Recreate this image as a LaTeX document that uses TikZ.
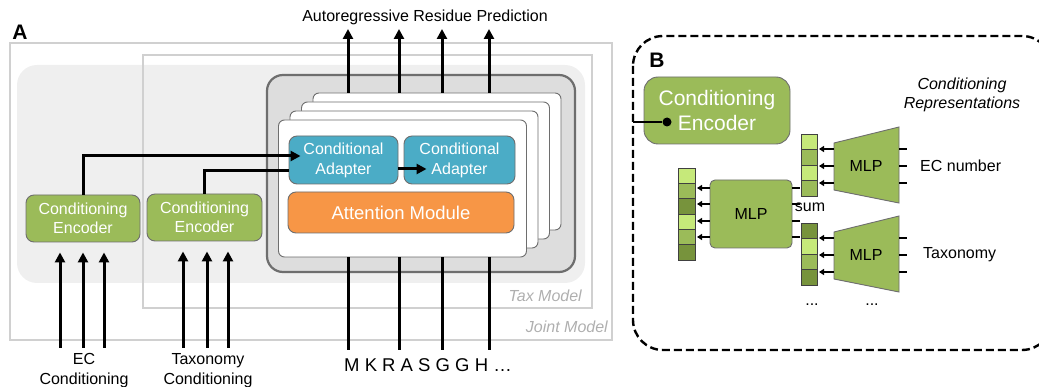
\documentclass[tikz,border=0pt]{standalone}
\usepackage{fontspec}
\setmainfont{Liberation Sans}
\usetikzlibrary{arrows.meta,calc}
\definecolor{grn}{HTML}{9BBB59}
\definecolor{grnl}{HTML}{C6E97A}
\definecolor{grnd}{HTML}{77933C}
\definecolor{blu}{HTML}{4BACC6}
\definecolor{org}{HTML}{F79646}
\definecolor{framec}{HTML}{D0D0D0}
\definecolor{bgc}{HTML}{EFEFEF}
\definecolor{contc}{HTML}{DDDDDD}
\definecolor{edgec}{HTML}{6E6E6E}
\definecolor{labc}{HTML}{AFAFAF}
\begin{document}
\begin{tikzpicture}[x=1pt,y=-1pt,
  bigarrow/.style={line width=3pt,-{Triangle[length=10pt,width=10pt]}},
  bigline/.style={line width=3pt},
  smallarrow/.style={line width=1.6pt,-{Triangle[length=5pt,width=6pt]}},
  tick/.style={line width=1.6pt},
  enc/.style={draw=edgec,line width=0.9pt,fill=grn,rounded corners=8pt,text=white,align=center,inner sep=0pt,font=\fontsize{16}{19.5}\selectfont},
  adapter/.style={draw=edgec,line width=0.9pt,fill=blu,rounded corners=8pt,text=white,align=center,inner sep=0pt,minimum height=48pt,font=\fontsize{16}{20}\selectfont},
  attn/.style={draw=edgec,line width=0.9pt,fill=org,rounded corners=8pt,text=white,align=center,inner sep=0pt,font=\fontsize{18.5}{22}\selectfont},
  card/.style={draw=edgec,line width=0.9pt,fill=white,rounded corners=6pt,minimum width=248pt,minimum height=137pt,inner sep=0pt},
  txt/.style={align=center,inner sep=0pt,font=\fontsize{16}{20}\selectfont},
  modlab/.style={inner sep=0pt,text=labc,font=\itshape\fontsize{16}{19}\selectfont},
  mlpt/.style={inner sep=0pt,font=\fontsize{16}{19}\selectfont},
  cell/.style={draw=black!75,line width=0.8pt},
  dashborder/.style={line width=2.4pt,dash pattern=on 8pt off 4pt,rounded corners=30pt}
]
\useasboundingbox (0,0) rectangle (1039,387);

% ---------------- Panel A ----------------
\node[inner sep=0pt,font=\bfseries\fontsize{21}{21}\selectfont] (labA) at (20,32) {A};

\fill[bgc,rounded corners=20pt] (17,65) rectangle (585,283);
\draw[framec,line width=1.2pt] (10,43) rectangle (612,340);
\draw[framec,line width=1.2pt] (143,55) rectangle (592,308);
\node[modlab,anchor=east] (taxlab) at (582,296) {Tax Model};
\node[modlab,anchor=east] (jointlab) at (608,327) {Joint Model};

% transformer container
\draw[draw=edgec,fill=contc,line width=2.2pt,rounded corners=16pt] (267,75) rectangle (575,272);

% stacked cards
\node[card] (card4) at (437,161.5) {};
\node[card] (card3) at (425.5,170.5) {};
\node[card] (card2) at (414,179.5) {};
\node[card] (card1) at (402.5,188.5) {};

\node[adapter,minimum width=109pt] (ad1) at (343.5,160) {Conditional\\Adapter};
\node[adapter,minimum width=111pt] (ad2) at (459.5,160) {Conditional\\Adapter};
\node[attn,minimum width=226pt,minimum height=41pt] (att) at (401,212.5) {Attention Module};

\draw[bigarrow] ($(ad1.east)+(0,9)$) -- ($(ad2.west)+(23,9)$);

% outputs
\node[txt] (outlab) at (425,17) {Autoregressive Residue Prediction};
\foreach \x/\n in {348/1,399/2,442/3,489/4}{
  \coordinate (o\n) at (\x,29);
  \coordinate (i\n) at (\x,350);
  \draw[bigarrow] (card4.north -| o\n) -- (o\n);
  \draw[bigline] (card1.south -| i\n) -- (i\n);
}
\node[inner sep=0pt,font=\fontsize{18.5}{22}\selectfont] (seq) at (428,365) {M K R A S G G H \dots};

% encoders
\node[enc,minimum width=114pt,minimum height=47pt] (enc1) at (83,218.5) {Conditioning\\Encoder};
\node[enc,minimum width=115pt,minimum height=47pt] (enc2) at (204.5,217.5) {Conditioning\\Encoder};

\draw[bigarrow,rounded corners=0pt] (enc1.north) |- ($(ad1.west)+(12,-4)$);
\draw[bigline] (enc2.north) |- ($(ad1.west)+(0,11)$);

\foreach \x/\n in {60/1,83/2,104/3}{
  \coordinate (ea\n) at (\x,348);
  \draw[bigarrow] (ea\n) -- ($(enc1.south -| ea\n)+(0,10)$);
}
\foreach \x/\n in {183/1,207/2,228/3}{
  \coordinate (ta\n) at (\x,348);
  \draw[bigarrow] (ta\n) -- ($(enc2.south -| ta\n)+(0,10)$);
}
\node[txt] (eclab) at (84,371) {EC\\Conditioning};
\node[txt] (taxinlab) at (208,371) {Taxonomy\\Conditioning};

% ---------------- Panel B ----------------
\draw[dashborder] (633,36) rectangle (1052,350);
\node[inner sep=0pt,font=\bfseries\fontsize{21}{21}\selectfont] (labB) at (657,60) {B};

\node[draw=edgec,line width=0.9pt,fill=grn,rounded corners=14pt,text=white,align=center,inner sep=0pt,
      minimum width=146pt,minimum height=67pt,font=\fontsize{21}{25}\selectfont] (bigenc) at (717,110.5) {Conditioning\\Encoder};
\node[circle,fill=black,inner sep=0pt,minimum size=9pt] (dot) at (667,122) {};
\coordinate (bd) at (633,122);
\draw[line width=2pt] (bd) -- (dot);

\node[txt,font=\itshape\fontsize{16}{19}\selectfont] (condrep) at (962,95) {Conditioning\\Representations};

% EC MLP trapezoid
\draw[draw=edgec,line width=0.9pt,fill=grn] (834,143) -- (899,127) -- (899,203) -- (834,190) -- cycle;
\node[mlpt] (mlpA) at (866,166) {MLP};
% Taxonomy MLP trapezoid
\draw[draw=edgec,line width=0.9pt,fill=grn] (834,232) -- (899,216) -- (899,292) -- (834,279) -- cycle;
\node[mlpt] (mlpB) at (866,255) {MLP};
% combining MLP
\node[draw=edgec,line width=0.9pt,fill=grn,rounded corners=5pt,minimum width=82pt,minimum height=68pt,inner sep=0pt,font=\fontsize{16}{19}\selectfont] (mlpC) at (751,214) {MLP};

\node[inner sep=0pt,font=\fontsize{16}{19}\selectfont,anchor=west] (ecnum) at (920,166) {EC number};
\node[inner sep=0pt,font=\fontsize{16}{19}\selectfont,anchor=west] (taxo) at (923,255) {Taxonomy};
\node[inner sep=0pt,font=\fontsize{16}{19}\selectfont] (sumlab) at (810,207) {sum};
\node[inner sep=0pt,font=\fontsize{16}{19}\selectfont] (dotsA) at (812,305) {...};
\node[inner sep=0pt,font=\fontsize{16}{19}\selectfont] (dotsB) at (872,305) {...};

% vectors
\foreach \c [count=\k from 0] in {grnl,grn,grnl,grn}{
  \draw[cell,fill=\c] (801,134+15.5*\k) rectangle (817,149.5+15.5*\k);
}
\foreach \c [count=\k from 0] in {grnd,grnl,grn,grnd}{
  \draw[cell,fill=\c] (801,223+15.5*\k) rectangle (817,238.5+15.5*\k);
}
\foreach \c [count=\k from 0] in {grnl,grn,grnd,grnl,grn,grnd}{
  \draw[cell,fill=\c] (678,168+15.33*\k) rectangle (695,183.33+15.33*\k);
}

% ticks and small arrows
\foreach \y in {149,166,183}{
  \draw[tick] (899,\y) -- (907,\y);
  \draw[smallarrow] (834,\y) -- (819,\y);
}
\foreach \y in {238,255,272}{
  \draw[tick] (899,\y) -- (907,\y);
  \draw[smallarrow] (834,\y) -- (819,\y);
}
\foreach \y in {188,204,221,237}{
  \draw[tick] (mlpC.east |- 0,\y) -- (800,\y);
  \draw[smallarrow] (mlpC.west |- 0,\y) -- (697,\y);
}
\end{tikzpicture}
\end{document}
